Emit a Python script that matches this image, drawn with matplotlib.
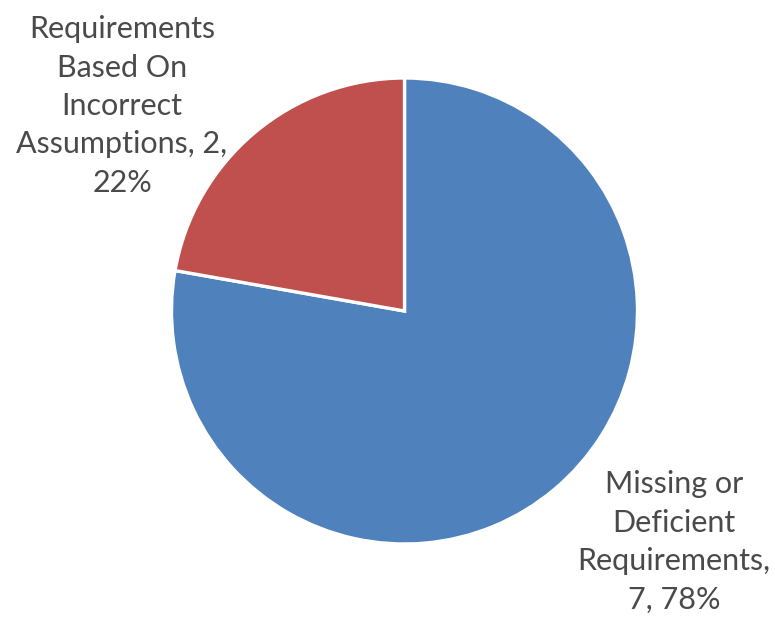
import matplotlib
matplotlib.use("Agg")
import matplotlib.pyplot as plt

# Requirement defect categories and counts
categories = ["Missing or\nDeficient\nRequirements", "Requirements\nBased On\nIncorrect\nAssumptions"]
counts = [7, 2]
colors = ["#4F81BD", "#C0504D"]

W, H = 775, 618
fig = plt.figure(figsize=(W / 100, H / 100), dpi=100)
ax = fig.add_axes([0, 0, 1, 1])

ax.pie(counts, colors=colors, startangle=90, counterclock=False,
       center=(404.5, H - 311), radius=233,
       wedgeprops=dict(edgecolor="white", linewidth=2.4))
ax.set_xlim(0, W)
ax.set_ylim(0, H)
ax.set_aspect("equal")
ax.axis("off")

total = sum(counts)
labels = []
for name, v in zip(categories, counts):
    pct = round(100 * v / total)
    labels.append(f"{name}, {v},\n{pct}%" if "Assumptions" in name else f"{name},\n{v}, {pct}%")

label_pos = [(674, H - 542), (122, H - 106)]
for (x, y), text in zip(label_pos, labels):
    ax.text(x, y, text, ha="center", va="center", fontsize=22, family="Lato",
            color="#4a4a4a", linespacing=1.45)

fig.savefig("out.png", dpi=100)
